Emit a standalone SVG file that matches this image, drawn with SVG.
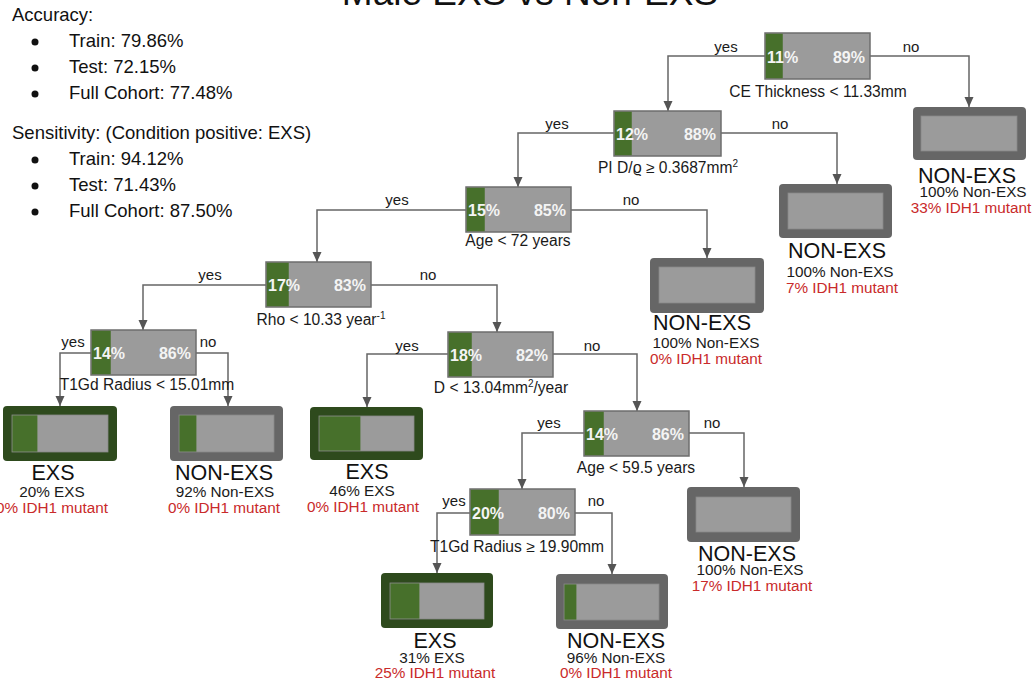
<svg xmlns="http://www.w3.org/2000/svg" width="1033" height="685" viewBox="0 0 1033 685">
<defs>
<style>
text{font-family:"Liberation Sans",Arial,sans-serif;}
.t{font-size:37px;fill:#111;text-anchor:middle;}
.info{font-size:18.5px;fill:#111;}
.box{fill:#9b9b9b;stroke:#6e6e6e;stroke-width:1.5;}
.g{fill:#47702b;}
.pct{font-size:16px;font-weight:bold;fill:#f4f4f4;}
.cond{font-size:15.6px;fill:#1a1a1a;text-anchor:middle;}
.yn{font-size:15px;fill:#1a1a1a;text-anchor:middle;}
.outN{fill:#666666;}
.outE{fill:#2e4a1d;}
.in{fill:#9b9b9b;stroke:#888;stroke-width:0.8;}
.cls{font-size:21.5px;fill:#111;text-anchor:middle;}
.pr{font-size:15.3px;fill:#1a1a1a;text-anchor:middle;}
.idh{font-size:15.3px;fill:#c92a2a;text-anchor:middle;}
.edge{fill:none;stroke:#666;stroke-width:1.5;}
.sup{font-size:10px;}
</style>
<marker id="ad" markerUnits="userSpaceOnUse" markerWidth="10" markerHeight="11" refX="5" refY="10" orient="0" viewBox="0 0 10 11">
<path d="M0.5,0 L9.5,0 L5,10 Z" fill="#555"/>
</marker>
</defs>
<rect width="1033" height="685" fill="#fff"/>
<text class="t" x="530" y="5">Male EXS vs Non-EXS</text>
<g id="info">
<text class="info" x="12" y="21">Accuracy:</text>
<circle cx="35" cy="42" r="3.5" fill="#111"/><text class="info" x="69" y="47">Train: 79.86%</text>
<circle cx="35" cy="68" r="3.5" fill="#111"/><text class="info" x="69" y="73">Test: 72.15%</text>
<circle cx="35" cy="94" r="3.5" fill="#111"/><text class="info" x="69" y="99">Full Cohort: 77.48%</text>
<text class="info" x="12" y="139">Sensitivity: (Condition positive: EXS)</text>
<circle cx="35" cy="160" r="3.5" fill="#111"/><text class="info" x="69" y="165">Train: 94.12%</text>
<circle cx="35" cy="186" r="3.5" fill="#111"/><text class="info" x="69" y="191">Test: 71.43%</text>
<circle cx="35" cy="212" r="3.5" fill="#111"/><text class="info" x="69" y="217">Full Cohort: 87.50%</text>
</g>
<g id="connectors">
<path class="edge" marker-end="url(#ad)" d="M765,56 H668 V111"/>
<path class="edge" marker-end="url(#ad)" d="M870,56 H969 V107"/>
<path class="edge" marker-end="url(#ad)" d="M614,133 H518 V187"/>
<path class="edge" marker-end="url(#ad)" d="M721,133 H837 V184"/>
<path class="edge" marker-end="url(#ad)" d="M466,210 H317 V262"/>
<path class="edge" marker-end="url(#ad)" d="M571,210 H707 V258"/>
<path class="edge" marker-end="url(#ad)" d="M266,285 H143 V330"/>
<path class="edge" marker-end="url(#ad)" d="M371,285 H497 V332"/>
<path class="edge" marker-end="url(#ad)" d="M91,353 H60 V406"/>
<path class="edge" marker-end="url(#ad)" d="M196,353 H228 V406"/>
<path class="edge" marker-end="url(#ad)" d="M448,354 H367 V407"/>
<path class="edge" marker-end="url(#ad)" d="M553,354 H637 V411"/>
<path class="edge" marker-end="url(#ad)" d="M584,433 H522 V489"/>
<path class="edge" marker-end="url(#ad)" d="M689,433 H744 V487"/>
<path class="edge" marker-end="url(#ad)" d="M470,513 H437 V573"/>
<path class="edge" marker-end="url(#ad)" d="M575,513 H612 V574"/>
<text class="yn" x="726" y="52">yes</text><text class="yn" x="911" y="52">no</text>
<text class="yn" x="557" y="129">yes</text><text class="yn" x="780" y="129">no</text>
<text class="yn" x="397" y="205">yes</text><text class="yn" x="631" y="205">no</text>
<text class="yn" x="210" y="280">yes</text><text class="yn" x="428" y="280">no</text>
<text class="yn" x="73" y="347">yes</text><text class="yn" x="208" y="347">no</text>
<text class="yn" x="407" y="351">yes</text><text class="yn" x="592" y="351">no</text>
<text class="yn" x="549" y="428">yes</text><text class="yn" x="712" y="428">no</text>
<text class="yn" x="454" y="506">yes</text><text class="yn" x="596" y="506">no</text>
</g>
<g id="n1">
<rect class="box" x="765" y="33" width="105" height="46"/><rect class="g" x="765.75" y="33.75" width="17" height="44.5"/>
<text class="pct" x="767" y="63">11%</text><text class="pct" x="865" y="63" text-anchor="end">89%</text>
<text class="cond" x="818" y="97">CE Thickness &lt; 11.33mm</text>
</g>
<g id="n2">
<rect class="box" x="614" y="111" width="107" height="45"/><rect class="g" x="614.75" y="111.75" width="17" height="43.5"/>
<text class="pct" x="616" y="140">12%</text><text class="pct" x="716" y="140" text-anchor="end">88%</text>
<text class="cond" x="668" y="173">PI D/ϱ ≥ 0.3687mm<tspan class="sup" dy="-6">2</tspan></text>
</g>
<g id="n3">
<rect class="box" x="466" y="187" width="105" height="45"/><rect class="g" x="466.75" y="187.75" width="18" height="43.5"/>
<text class="pct" x="468" y="216">15%</text><text class="pct" x="566" y="216" text-anchor="end">85%</text>
<text class="cond" x="518" y="246">Age &lt; 72 years</text>
</g>
<g id="n4">
<rect class="box" x="266" y="262" width="105" height="45"/><rect class="g" x="266.75" y="262.75" width="22" height="43.5"/>
<text class="pct" x="268" y="291">17%</text><text class="pct" x="366" y="291" text-anchor="end">83%</text>
<text class="cond" x="321" y="325">Rho &lt; 10.33 year<tspan class="sup" dy="-6">-1</tspan></text>
</g>
<g id="n5">
<rect class="box" x="91" y="330" width="105" height="45"/><rect class="g" x="91.75" y="330.75" width="19" height="43.5"/>
<text class="pct" x="93" y="359">14%</text><text class="pct" x="191" y="359" text-anchor="end">86%</text>
<text class="cond" x="147" y="390">T1Gd Radius &lt; 15.01mm</text>
</g>
<g id="n6">
<rect class="box" x="448" y="332" width="105" height="45"/><rect class="g" x="448.75" y="332.75" width="23" height="43.5"/>
<text class="pct" x="450" y="361">18%</text><text class="pct" x="548" y="361" text-anchor="end">82%</text>
<text class="cond" x="501" y="393">D &lt; 13.04mm<tspan class="sup" dy="-6">2</tspan><tspan dy="6">/year</tspan></text>
</g>
<g id="n7">
<rect class="box" x="584" y="411" width="105" height="45"/><rect class="g" x="584.75" y="411.75" width="19" height="43.5"/>
<text class="pct" x="586" y="440">14%</text><text class="pct" x="684" y="440" text-anchor="end">86%</text>
<text class="cond" x="636" y="473">Age &lt; 59.5 years</text>
</g>
<g id="n8">
<rect class="box" x="470" y="489" width="105" height="46"/><rect class="g" x="470.75" y="489.75" width="28" height="44.5"/>
<text class="pct" x="472" y="519">20%</text><text class="pct" x="570" y="519" text-anchor="end">80%</text>
<text class="cond" x="517" y="552">T1Gd Radius ≥ 19.90mm</text>
</g>
<g id="leaf1">
<rect class="outN" x="913" y="107" width="113" height="53" rx="4"/><rect class="in" x="921" y="116" width="96" height="35"/>
<text class="cls" x="967" y="183">NON-EXS</text><text class="pr" x="973" y="197">100% Non-EXS</text><text class="idh" x="971" y="213">33% IDH1 mutant</text>
</g>
<g id="leaf2">
<rect class="outN" x="779" y="184" width="113" height="54" rx="4"/><rect class="in" x="788" y="193" width="95" height="36"/>
<text class="cls" x="837" y="258">NON-EXS</text><text class="pr" x="840" y="277">100% Non-EXS</text><text class="idh" x="842" y="293">7% IDH1 mutant</text>
</g>
<g id="leaf3">
<rect class="outN" x="650" y="258" width="114" height="55" rx="4"/><rect class="in" x="659" y="267" width="96" height="36"/>
<text class="cls" x="702" y="330">NON-EXS</text><text class="pr" x="706" y="348">100% Non-EXS</text><text class="idh" x="706" y="364">0% IDH1 mutant</text>
</g>
<g id="leaf5a">
<rect class="outE" x="3" y="406" width="114" height="55" rx="4"/><rect class="in" x="12" y="415" width="96" height="37"/><rect class="g" x="12.4" y="415.4" width="25" height="36.2"/>
<text class="cls" x="53" y="480">EXS</text><text class="pr" x="52" y="497">20% EXS</text><text class="idh" x="52" y="513">0% IDH1 mutant</text>
</g>
<g id="leaf5b">
<rect class="outN" x="170" y="406" width="113" height="55" rx="4"/><rect class="in" x="179" y="415" width="95" height="37"/><rect class="g" x="179.4" y="415.4" width="17" height="36.2"/>
<text class="cls" x="224" y="480">NON-EXS</text><text class="pr" x="225" y="497">92% Non-EXS</text><text class="idh" x="224" y="513">0% IDH1 mutant</text>
</g>
<g id="leaf6a">
<rect class="outE" x="310" y="407" width="113" height="53" rx="4"/><rect class="in" x="319" y="416" width="95" height="35"/><rect class="g" x="319.4" y="416.4" width="41" height="34.2"/>
<text class="cls" x="367" y="479">EXS</text><text class="pr" x="362" y="496">46% EXS</text><text class="idh" x="363" y="512">0% IDH1 mutant</text>
</g>
<g id="leaf7">
<rect class="outN" x="687" y="487" width="113" height="55" rx="4"/><rect class="in" x="696" y="497" width="95" height="35"/>
<text class="cls" x="747" y="561">NON-EXS</text><text class="pr" x="750" y="575">100% Non-EXS</text><text class="idh" x="752" y="591">17% IDH1 mutant</text>
</g>
<g id="leaf8a">
<rect class="outE" x="381" y="573" width="112" height="55" rx="4"/><rect class="in" x="390" y="583" width="94" height="36"/><rect class="g" x="390.4" y="583.4" width="29" height="35.2"/>
<text class="cls" x="435" y="648">EXS</text><text class="pr" x="432" y="663">31% EXS</text><text class="idh" x="435" y="678">25% IDH1 mutant</text>
</g>
<g id="leaf8b">
<rect class="outN" x="556" y="574" width="112" height="55" rx="4"/><rect class="in" x="564" y="584" width="95" height="36"/><rect class="g" x="564.4" y="584.4" width="12" height="35.2"/>
<text class="cls" x="616" y="648">NON-EXS</text><text class="pr" x="616" y="663">96% Non-EXS</text><text class="idh" x="616" y="678">0% IDH1 mutant</text>
</g>
</svg>
